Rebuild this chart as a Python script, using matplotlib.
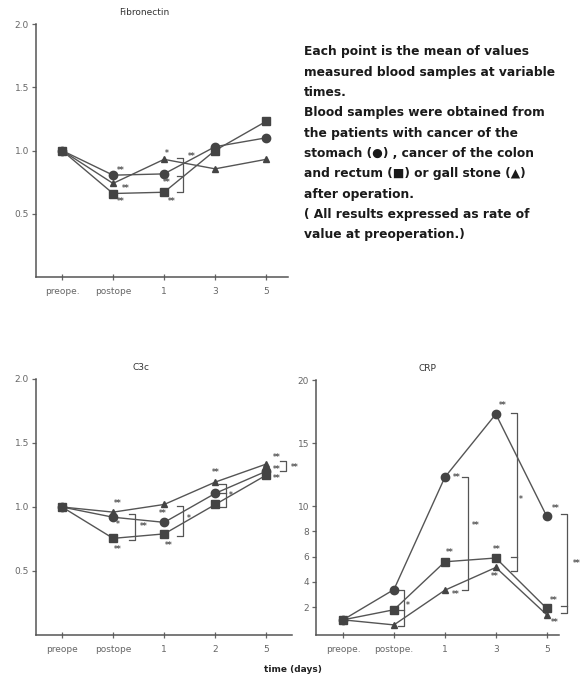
import matplotlib
matplotlib.use("Agg")
import matplotlib.pyplot as plt

# time points (index positions on the x axis)
x_pos = [0, 1, 2, 3, 4]
fn_xlabels = ["preope.", "postope", "1", "3", "5"]
c3_xlabels = ["preope", "postope", "1", "2", "5"]
crp_xlabels = ["preope.", "postope.", "1", "3", "5"]

# Fibronectin
fn_stomach = [1.0, 0.805, 0.815, 1.03, 1.10]
fn_colon = [1.0, 0.66, 0.67, 1.0, 1.23]
fn_gall = [1.0, 0.74, 0.93, 0.855, 0.93]

# C3c
c3_stomach = [1.0, 0.92, 0.88, 1.107, 1.28]
c3_colon = [1.0, 0.755, 0.79, 1.02, 1.25]
c3_gall = [1.0, 0.96, 1.02, 1.195, 1.336]

# CRP
crp_stomach = [1.0, 3.4, 12.3, 17.3, 9.2]
crp_colon = [1.0, 1.8, 5.6, 5.9, 1.9]
crp_gall = [1.0, 0.6, 3.35, 5.15, 1.4]

# significance marks: (x, y, text)
fn_marks = [(1.15, 0.84, "**"), (1.25, 0.70, "**"), (1.15, 0.60, "**"),
            (2.05, 0.98, "*"), (2.05, 0.75, "**"), (2.15, 0.60, "**"),
            (2.55, 0.95, "**")]
# brackets: (x, y_bottom, y_top, [middle ticks])
fn_brackets = [(2.37, 0.67, 0.94, [0.80])]

c3_marks = [(1.1, 1.03, "**"), (1.1, 0.86, "*"), (1.1, 0.67, "**"),
            (1.6, 0.85, "**"), (1.98, 0.95, "**"), (2.08, 0.70, "**"),
            (2.48, 0.91, "*"), (3.0, 1.27, "**"), (3.3, 1.09, "*"),
            (4.2, 1.385, "**"), (4.2, 1.29, "**"), (4.2, 1.225, "**"),
            (4.55, 1.31, "**")]
c3_brackets = [(1.43, 0.74, 0.945, []), (2.37, 0.775, 1.01, []),
               (3.2, 1.0, 1.18, [1.107]), (4.39, 1.28, 1.36, [])]

crp_marks = [(1.28, 2.1, "*"), (2.23, 12.3, "**"), (2.1, 6.3, "**"),
             (2.22, 3.0, "**"), (2.6, 8.5, "**"), (3.14, 18.0, "**"),
             (3.02, 6.6, "**"), (2.97, 4.4, "**"), (3.49, 10.5, "*"),
             (4.17, 9.8, "**"), (4.13, 2.5, "**"), (4.15, 0.8, "**"),
             (4.58, 5.5, "**")]
crp_brackets = [(1.2, 0.55, 3.35, [1.8]), (2.45, 3.35, 12.3, []),
                (3.41, 4.9, 17.4, [6.0]), (4.39, 1.55, 9.4, [2.1])]

note_lines = ["Each point is the mean of values",
              "measured blood samples at variable",
              "times.",
              "Blood samples were obtained from",
              "the patients with cancer of the",
              "stomach (\u25cf) , cancer of the colon",
              "and rectum (\u25a0) or gall stone (\u25b2)",
              "after operation.",
              "( All results expressed as rate of",
              "value at preoperation.)"]

W, H = 586, 679
fig = plt.figure(figsize=(W / 100, H / 100), dpi=100)

line_c = "#555555"
mark_c = "#444444"


def make_axes(left, top, right, bottom):
    return fig.add_axes([left / W, 1 - bottom / H, (right - left) / W, (bottom - top) / H])


def style_axes(ax, xlabels, yticks, yticklabels, ylim, xlim, title, title_x):
    ax.set_xlim(*xlim)
    ax.set_ylim(*ylim)
    for s in ["top", "right"]:
        ax.spines[s].set_visible(False)
    for s in ["left", "bottom"]:
        ax.spines[s].set_color("#555555")
        ax.spines[s].set_linewidth(1.1)
    ax.spines["left"].set_bounds(ylim[0], yticks[-1])
    ax.set_xticks(x_pos)
    ax.set_xticklabels(xlabels)
    ax.set_yticks(yticks)
    ax.set_yticklabels(yticklabels)
    ax.tick_params(axis="x", direction="inout", length=4, width=0.9, colors="#666666",
                   labelsize=6.5, pad=5)
    ax.tick_params(axis="y", direction="out", length=3, width=0.9, colors="#666666",
                   labelsize=6.5, pad=2)
    ax.text(title_x, 1.045, title, transform=ax.transAxes, ha="center", va="center",
            fontsize=6.5, color="#333333")
    ax.patch.set_alpha(0)


def draw_series(ax, stomach, colon, gall):
    ax.plot(x_pos, gall, color=line_c, lw=1.0, marker="^", ms=5, mfc=mark_c, mec=mark_c,
            clip_on=False, zorder=3)
    ax.plot(x_pos, colon, color=line_c, lw=1.0, marker="s", ms=5.5, mfc=mark_c, mec=mark_c,
            clip_on=False, zorder=3)
    ax.plot(x_pos, stomach, color=line_c, lw=1.0, marker="o", ms=6, mfc=mark_c, mec=mark_c,
            clip_on=False, zorder=3)


def draw_marks(ax, marks, brackets, tick_w):
    for x, y, t in marks:
        ax.text(x, y, t, ha="center", va="center", fontsize=5.5, color="#555555",
                fontweight="bold", clip_on=False)
    for x, y0, y1, mids in brackets:
        ax.plot([x - tick_w, x, x, x - tick_w], [y0, y0, y1, y1], color="#555555",
                lw=0.9, clip_on=False)
        for m in mids:
            ax.plot([x - tick_w, x], [m, m], color="#555555", lw=0.9, clip_on=False)


# Fibronectin panel
ax1 = make_axes(36, 24, 288, 277)
style_axes(ax1, fn_xlabels, [0.5, 1.0, 1.5, 2.0], ["0.5", "1.0", "1.5", "2.0"],
           (0, 2.0), (-0.51, 4.43), "Fibronectin", 0.43)
draw_series(ax1, fn_stomach, fn_colon, fn_gall)
draw_marks(ax1, fn_marks, fn_brackets, 0.12)

# C3c panel
ax2 = make_axes(36, 379, 292, 635)
style_axes(ax2, c3_xlabels, [0.5, 1.0, 1.5, 2.0], ["0.5", "1.0", "1.5", "2.0"],
           (0, 2.0), (-0.51, 4.5), "C3c", 0.41)
draw_series(ax2, c3_stomach, c3_colon, c3_gall)
draw_marks(ax2, c3_marks, c3_brackets, 0.12)

# CRP panel
ax3 = make_axes(316, 380, 559, 635)
style_axes(ax3, crp_xlabels, [2, 4, 6, 8, 10, 15, 20],
           ["2", "4", "6", "8", "10", "15", "20"],
           (-0.2, 20), (-0.53, 4.24), "CRP", 0.46)
draw_series(ax3, crp_stomach, crp_colon, crp_gall)
draw_marks(ax3, crp_marks, crp_brackets, 0.12)

# explanatory note
for i, line in enumerate(note_lines):
    fig.text(304 / W, 1 - (52 + i * 20.3) / H, line, ha="left", va="center",
             fontsize=8.8, color="#1a1a1a", fontweight="bold", family=["DejaVu Sans"])

fig.text(293 / W, 1 - 669 / H, "time (days)", ha="center", va="center", fontsize=6.5,
         color="#222222", fontweight="bold")

fig.savefig("out.png", dpi=100)
